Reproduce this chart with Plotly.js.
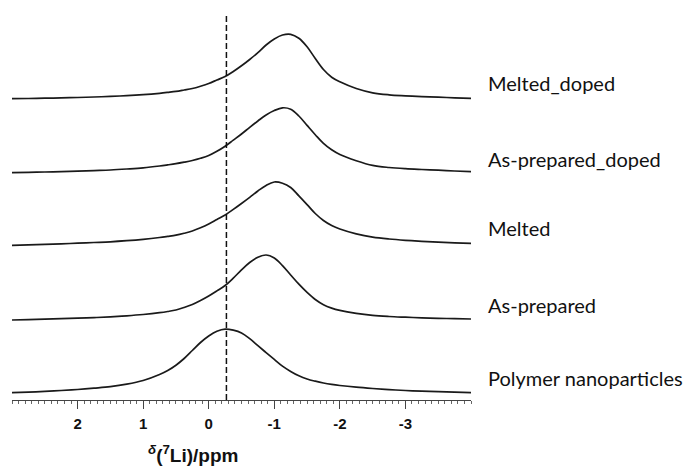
<!DOCTYPE html>
<html>
<head>
<meta charset="utf-8">
<script src="https://cdn.plot.ly/plotly-3.0.1.min.js"></script>
<style>html,body{margin:0;padding:0;background:#fff;}#chart{width:686px;height:469px;}</style>
</head>
<body>
<div id="chart"></div>
<script>
// Chemical shift axis (ppm) and stacked intensities (arbitrary units)
const sampleNames = ["Melted_doped", "As-prepared_doped", "Melted", "As-prepared", "Polymer nanoparticles"];

const shiftPpm = [3.0, 2.75, 2.5, 2.25, 2.0, 1.75, 1.5, 1.25, 1.0, 0.75, 0.625, 0.5, 0.375, 0.25, 0.125, 0.0,
  -0.125, -0.25, -0.375, -0.5, -0.625, -0.75, -0.875, -1.0, -1.125, -1.25, -1.375, -1.5, -1.625, -1.75, -1.875, -2.0,
  -2.25, -2.5, -2.75, -3.0, -3.25, -3.5, -3.75, -4.0];

const meltedDopedY = [301.3, 301.5, 301.8, 302.1, 302.5, 303, 303.6, 304.3, 305.3, 306.7, 307.6, 308.6, 310, 311.5, 313.8, 316.5,
  320, 323.5, 328.5, 334.2, 340.5, 347.4, 355, 361, 365, 365.7, 361.7, 353.2, 341.5, 330.5, 322.8, 318.2,
  311.5, 307.2, 305.2, 304.2, 303.4, 302.8, 302.2, 301.7];
const asPrepDopedY = [227.3, 227.6, 228, 228.4, 228.8, 229.4, 230, 231, 232.2, 234, 235.1, 236.3, 237.8, 239.5, 241.7, 244.5,
  248.7, 253.8, 259.9, 266, 272.6, 279, 285, 289.5, 292.2, 290.8, 284, 274.6, 265.3, 256.6, 250.2, 245.5,
  239.3, 234.6, 232.5, 231.3, 230.5, 229.8, 229, 228.3];
const meltedY = [154.7, 155.2, 155.7, 156.2, 156.8, 157.5, 158.2, 159.3, 160.7, 162.5, 163.6, 164.8, 166.7, 169, 172.2, 176,
  180.5, 185, 190.6, 196.5, 202.6, 209, 214.6, 218, 216.8, 212.5, 204.1, 195.4, 186.5, 179.5, 174.5, 171,
  166.2, 162.9, 161, 159.7, 158.7, 157.8, 157.2, 156.7];
const asPrepY = [80, 80.4, 80.8, 81.3, 81.8, 82.4, 83.2, 84.2, 85.5, 87.3, 88.5, 90, 92.5, 95.5, 99.5, 104,
  109.1, 114.5, 121.9, 130.1, 137.5, 142.7, 145, 142, 134.4, 125, 115.8, 107.6, 100.5, 95.3, 91.9, 89.6,
  86.6, 84.6, 83.5, 82.8, 82.2, 81.7, 81.3, 81];
const polymerY = [7.3, 7.9, 8.6, 9.5, 10.5, 11.8, 13.3, 15.8, 19.5, 25.5, 29.5, 34.8, 41.5, 49.5, 57.5, 64,
  68.8, 70.9, 69.8, 67, 61.3, 54.3, 47.4, 40.6, 33.9, 28.6, 24.2, 21, 18.8, 17, 15.6, 14.5,
  12.8, 11.5, 10.4, 9.5, 8.8, 8.3, 7.8, 7.3];

const referenceShift = -0.27;   // dashed reference line (ppm)

const tickValues = [2, 1, 0, -1, -2, -3];
const tickLabels = ["2", "1", "0", "-1", "-2", "-3"];
const labelLevels = [317, 241, 172, 95, 22];

const seriesY = [meltedDopedY, asPrepDopedY, meltedY, asPrepY, polymerY];

const traces = sampleNames.map((name, i) => ({
  type: 'scatter', mode: 'lines', name: name,
  x: shiftPpm, y: seriesY[i],
  line: {color: '#1a1a1a', width: 1.7, shape: 'spline', smoothing: 1},
  hoverinfo: 'skip'
}));

const annotations = sampleNames.map((name, i) => ({
  text: name, xref: 'paper', yref: 'y', x: 1.033, y: labelLevels[i],
  xanchor: 'left', yanchor: 'middle', showarrow: false,
  font: {family: 'Lato, "Open Sans", sans-serif', size: 20, color: '#111'}
}));
annotations.push({
  text: '<sup><i>δ</i></sup>(<sup>7</sup>Li)/ppm', xref: 'paper', yref: 'paper',
  x: 0.394, y: -0.135, xanchor: 'center', yanchor: 'middle', showarrow: false,
  font: {family: '"Liberation Sans", Arial, sans-serif', size: 19, color: '#111', weight: 'bold'}
});

const layout = {
  width: 686, height: 469,
  margin: {l: 12, r: 215, t: 0, b: 69},
  paper_bgcolor: '#fff', plot_bgcolor: '#fff',
  showlegend: false,
  xaxis: {
    range: [3, -4], showgrid: false, zeroline: false,
    showline: true, linecolor: '#444', linewidth: 1,
    tickmode: 'array', tickvals: tickValues, ticktext: tickLabels,
    ticks: 'outside', ticklen: 8, tickwidth: 1, tickcolor: '#444',
    tickfont: {family: '"Liberation Sans", Arial, sans-serif', size: 15, color: '#111', weight: 'bold'},
    ticklabelstandoff: 2,
    minor: {tickmode: 'linear', tick0: 0, dtick: 0.1, ticks: 'outside', ticklen: 3, tickwidth: 1, tickcolor: '#666', showgrid: false}
  },
  yaxis: {range: [0, 400], visible: false, fixedrange: true},
  shapes: [{
    type: 'line', xref: 'x', yref: 'paper', x0: referenceShift, x1: referenceShift, y0: 0, y1: 0.965,
    line: {color: '#111', width: 1.5, dash: '6px,3px'}
  }],
  annotations: annotations
};

Plotly.newPlot('chart', traces, layout, {staticPlot: true, displayModeBar: false});
</script>
</body>
</html>
